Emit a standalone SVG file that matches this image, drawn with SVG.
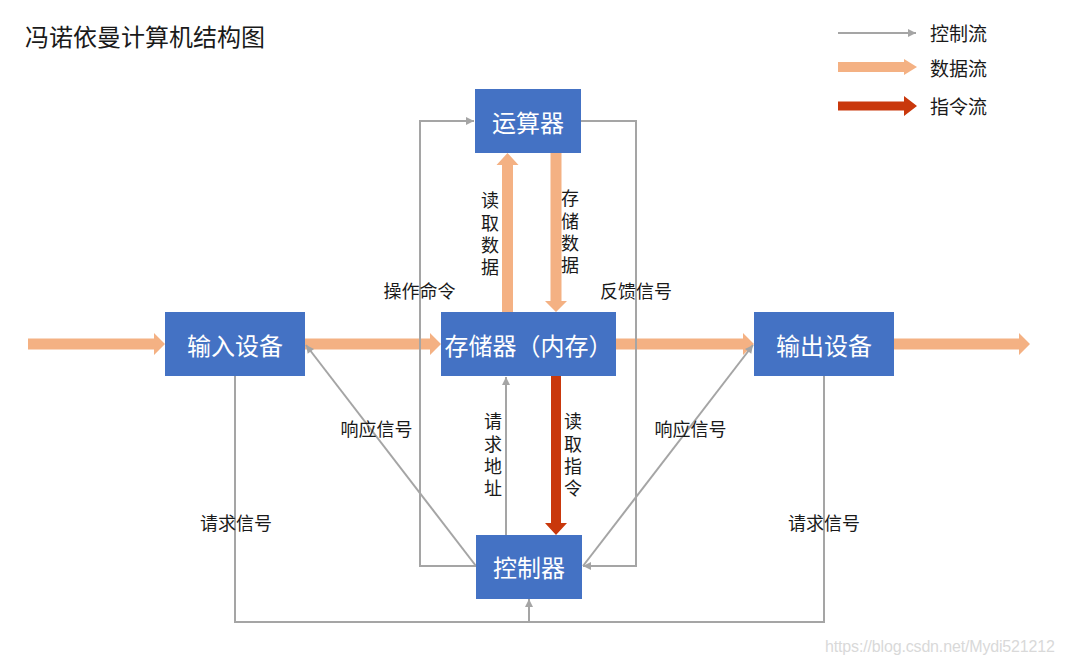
<svg xmlns="http://www.w3.org/2000/svg" width="1065" height="664" viewBox="0 0 1065 664">
<style>
text{font-family:"Noto Sans CJK SC","Noto Sans",sans-serif;dominant-baseline:central}
.box{fill:#4472C4}
.bt{fill:#fff;font-size:24px;text-anchor:middle}
.lbl{fill:#1a1a1a;font-size:18px;text-anchor:middle}
.vt{fill:#1a1a1a;font-size:18px;text-anchor:middle;writing-mode:vertical-rl;letter-spacing:4.3px}
.ctl{fill:none;stroke:#A5A5A5;stroke-width:2}
.data{fill:#F4B183}
.ins{fill:#C9380C}
</style>
<defs>
<marker id="ga" markerWidth="10" markerHeight="10" refX="9" refY="5" orient="auto" markerUnits="userSpaceOnUse">
<path d="M1,1 L9,5 L1,9 Z" fill="#A5A5A5"/>
</marker>
</defs>
<rect width="1065" height="664" fill="#fff"/>
<text x="25" y="35" style="font-size:24px;fill:#1a1a1a">冯诺依曼计算机结构图</text>

<g id="legend">
<line x1="838" y1="33" x2="916" y2="33" class="ctl" marker-end="url(#ga)"/>
<text x="930" y="32" style="font-size:19px;fill:#1a1a1a">控制流</text>
<path class="data" d="M838,62 H904 V59 L917,67 L904,75 V72 H838 Z"/>
<text x="930" y="67" style="font-size:19px;fill:#1a1a1a">数据流</text>
<path class="ins" d="M838,101.5 H904 V96 L917,106 L904,116 V110.5 H838 Z"/>
<text x="930" y="105" style="font-size:19px;fill:#1a1a1a">指令流</text>
</g>

<g id="connectors">
<path class="data" d="M28,338.5 H154 V333 L165,344 L154,355 V349.5 H28 Z"/>
<path class="data" d="M305,338.5 H430 V333 L441,344 L430,355 V349.5 H305 Z"/>
<path class="data" d="M616,338.5 H743 V333 L754,344 L743,355 V349.5 H616 Z"/>
<path class="data" d="M894,338.5 H1019 V333 L1030,344 L1019,355 V349.5 H894 Z"/>
<path class="data" d="M502,312 V165 H496.5 L507.5,153 L518.5,165 H513 V312 Z"/>
<path class="data" d="M550.5,153 V301 H545 L556,312 L567,301 H561.5 V153 Z"/>
<path class="ins" d="M551,376 V523 H545 L556,535 L567,523 H561 V376 Z"/>
<polyline class="ctl" points="476,566 420,566 420,121 474,121" marker-end="url(#ga)"/>
<polyline class="ctl" points="581,121 636,121 636,566 583,566" marker-end="url(#ga)"/>
<line class="ctl" x1="506" y1="535" x2="506" y2="377" marker-end="url(#ga)"/>
<line class="ctl" x1="476" y1="566" x2="306" y2="345" marker-end="url(#ga)"/>
<line class="ctl" x1="583" y1="566" x2="753" y2="345" marker-end="url(#ga)"/>
<polyline class="ctl" points="235,376 235,622 824,622 824,376"/>
<line class="ctl" x1="529" y1="622" x2="529" y2="599" marker-end="url(#ga)"/>
<text class="lbl" x="419.5" y="290">操作命令</text>
<text class="lbl" x="636" y="290">反馈信号</text>
<text class="lbl" x="376.5" y="428">响应信号</text>
<text class="lbl" x="690.5" y="428">响应信号</text>
<text class="lbl" x="236" y="522">请求信号</text>
<text class="lbl" x="824" y="522">请求信号</text>
<text class="vt" x="490" y="236">读取数据</text>
<text class="vt" x="570" y="234">存储数据</text>
<text class="vt" x="493" y="457">请求地址</text>
<text class="vt" x="573" y="457">读取指令</text>
</g>

<g id="alu">
<rect class="box" x="475" y="89" width="106" height="64"/>
<text class="bt" x="528" y="121">运算器</text>
</g>
<g id="input">
<rect class="box" x="165" y="312" width="140" height="64"/>
<text class="bt" x="235" y="344">输入设备</text>
</g>
<g id="memory">
<rect class="box" x="441" y="312" width="175" height="64"/>
<text class="bt" x="528.5" y="344">存储器（内存）</text>
</g>
<g id="output">
<rect class="box" x="754" y="312" width="140" height="64"/>
<text class="bt" x="824" y="344">输出设备</text>
</g>
<g id="controller">
<rect class="box" x="476" y="535" width="106" height="64"/>
<text class="bt" x="529" y="566">控制器</text>
</g>

<text x="825" y="646" textLength="230" style="font-family:'Liberation Sans',Arial,sans-serif;font-size:16px;fill:#d9d9d9">https://blog.csdn.net/Mydi521212</text>
</svg>
